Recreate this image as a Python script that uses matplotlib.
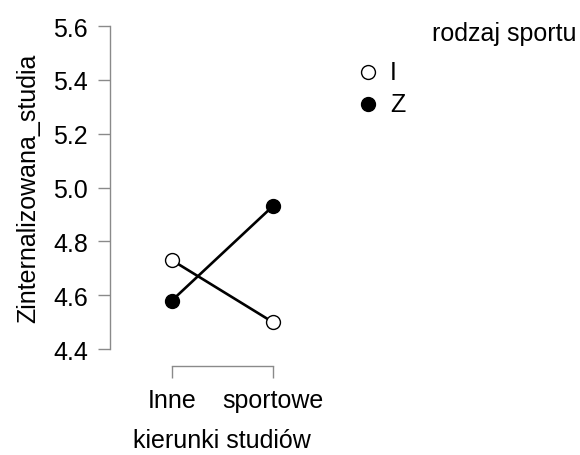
import matplotlib
matplotlib.use("Agg")
import matplotlib.pyplot as plt
from matplotlib.lines import Line2D

categories = ["Inne", "sportowe"]
series_names = ["I", "Z"]
values_I = [4.73, 4.50]
values_Z = [4.58, 4.93]
y_ticks = [4.4, 4.6, 4.8, 5.0, 5.2, 5.4, 5.6]

plt.rcParams['font.family'] = ['Liberation Sans', 'DejaVu Sans']

W, H = 580, 456
fig = plt.figure(figsize=(W / 100, H / 100), dpi=100)
# axes: left edge at x=110, top at y=27, bottom at y=350
ax = fig.add_axes([110 / W, 1 - 350 / H, (313 - 110) / W, (350 - 27) / H])
ax.patch.set_alpha(0)

MS = 10
x = list(range(len(categories)))
ax.plot(x, values_I, color='black', lw=1.9, marker='o', ms=MS,
        mfc='white', mec='black', mew=1.0, zorder=3)
ax.plot(x, values_Z, color='black', lw=1.9, marker='o', ms=MS,
        mfc='black', mec='black', mew=1.0, zorder=3)

ax.set_xlim(-0.614, 1.4)
ax.set_ylim(4.4, 5.6)

for s in ['top', 'right']:
    ax.spines[s].set_visible(False)
gray = '#8a8a8a'
ax.spines['left'].set_color(gray)
ax.spines['left'].set_bounds(4.4, 5.6)
ax.spines['bottom'].set_color(gray)
ax.spines['bottom'].set_bounds(0, 1)
ax.spines['bottom'].set_position(('outward', 12.3))
ax.spines['left'].set_linewidth(1.0)
ax.spines['bottom'].set_linewidth(1.0)

ax.set_yticks(y_ticks)
ax.set_yticklabels([f"{v:.1f}" for v in y_ticks])
ax.set_xticks(x)
ax.set_xticklabels(categories)
ax.tick_params(axis='both', colors=gray, labelcolor='black', labelsize=18,
               length=8.5, width=1.0)
ax.tick_params(axis='y', pad=7.5)
ax.tick_params(axis='x', pad=7)

ax.set_xlabel("kierunki studiów", fontsize=18)
ax.xaxis.set_label_coords((0.5 + 0.614) / (1.4 + 0.614), (350 - 441) / 323,
                          transform=ax.transAxes)
ax.xaxis.label.set_va('center')
ax.set_ylabel("Zinternalizowana_studia", fontsize=18, labelpad=9)

# legend (drawn manually in figure pixel positions)
leg_rows = [(series_names[0], 'white', 73), (series_names[1], 'black', 105)]
for name, fc, yp in leg_rows:
    fig.add_artist(Line2D([368 / W], [1 - yp / H], transform=fig.transFigure,
                          ls='none', marker='o', ms=MS, mfc=fc, mec='black', mew=1.0))
    fig.text(390 / W, 1 - yp / H, name, fontsize=18, ha='left', va='center')
fig.text(432 / W, 1 - 34 / H, "rodzaj sportu", fontsize=18, ha='left', va='center')

fig.savefig("out.png", dpi=100)
